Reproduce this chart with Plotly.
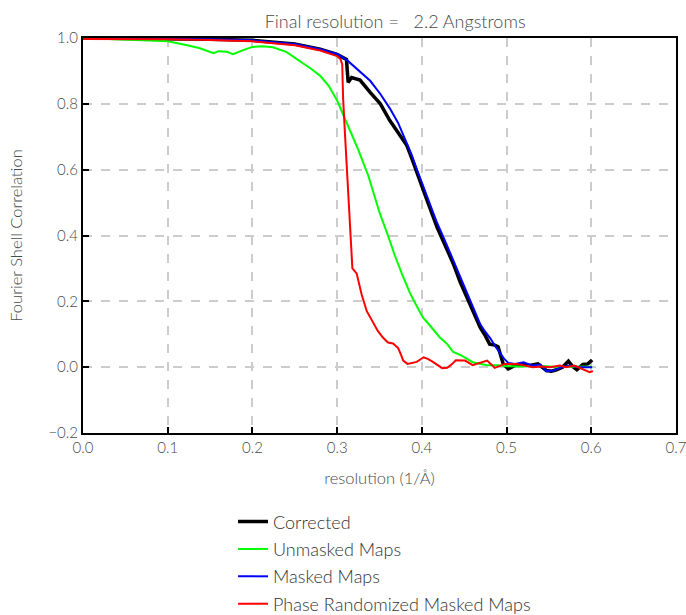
import plotly.graph_objects as go

# Corrected (black)
res_corr = [0.0, 0.05, 0.1, 0.15, 0.2, 0.25, 0.28, 0.30, 0.311, 0.313, 0.317, 0.327, 0.339,
            0.351, 0.362, 0.372, 0.382, 0.388, 0.394, 0.405, 0.418, 0.428, 0.437, 0.445, 0.453, 0.461, 0.469,
            0.475, 0.48, 0.486, 0.49, 0.496, 0.502, 0.51, 0.517, 0.527, 0.537, 0.547, 0.553, 0.559,
            0.566, 0.573, 0.578, 0.583, 0.59, 0.596, 0.601]
fsc_corr = [1.0, 0.999, 0.998, 0.996, 0.993, 0.982, 0.966, 0.95, 0.935, 0.865, 0.88, 0.872, 0.835,
            0.80, 0.75, 0.714, 0.675, 0.635, 0.59, 0.515, 0.425, 0.37, 0.315, 0.26, 0.213, 0.165, 0.12,
            0.095, 0.07, 0.067, 0.062, 0.01, -0.005, 0.005, 0.008, 0.005, 0.01, -0.01, -0.012, -0.008,
            0.0, 0.018, 0.002, -0.008, 0.008, 0.01, 0.022]

# Unmasked Maps (green)
res_unm = [0.0, 0.059, 0.1, 0.123, 0.138, 0.154, 0.16, 0.17, 0.177, 0.189, 0.2, 0.212, 0.224, 0.24,
           0.256, 0.27, 0.28, 0.29, 0.30, 0.315, 0.325, 0.337, 0.35, 0.36, 0.368, 0.377, 0.386, 0.393,
           0.401, 0.41, 0.421, 0.43, 0.437, 0.447, 0.46, 0.477, 0.49, 0.5, 0.52, 0.54, 0.56, 0.58, 0.601]
fsc_unm = [1.0, 0.993, 0.99, 0.978, 0.969, 0.954, 0.96, 0.958, 0.951, 0.963, 0.973, 0.975, 0.972, 0.958,
           0.93, 0.905, 0.885, 0.855, 0.81, 0.72, 0.66, 0.58, 0.47, 0.40, 0.34, 0.28, 0.225, 0.19,
           0.152, 0.125, 0.091, 0.07, 0.046, 0.035, 0.015, 0.006, 0.006, 0.003, 0.002, 0.004, 0.0, 0.002, 0.001]

# Masked Maps (blue)
res_msk = [0.0, 0.05, 0.1, 0.15, 0.2, 0.25, 0.28, 0.30, 0.312, 0.327, 0.339, 0.351, 0.362, 0.372, 0.382,
           0.388, 0.394, 0.405, 0.418, 0.428, 0.437, 0.445, 0.453, 0.461, 0.469, 0.475, 0.481, 0.487,
           0.492, 0.497, 0.502, 0.51, 0.52, 0.53, 0.54, 0.547, 0.555, 0.565, 0.575, 0.585, 0.601]
fsc_msk = [1.0, 0.999, 0.998, 0.996, 0.993, 0.982, 0.966, 0.952, 0.932, 0.897, 0.87, 0.83, 0.787, 0.742, 0.682,
           0.645, 0.602, 0.528, 0.438, 0.38, 0.325, 0.272, 0.224, 0.175, 0.13, 0.107, 0.087, 0.062,
           0.042, 0.026, 0.013, 0.01, 0.015, 0.005, 0.008, -0.012, -0.01, 0.0, 0.005, 0.0, 0.0]

# Phase Randomized Masked Maps (red)
res_rnd = [0.0, 0.05, 0.1, 0.15, 0.2, 0.25, 0.28, 0.30, 0.304, 0.306, 0.307, 0.309, 0.311, 0.315, 0.318,
           0.323, 0.329, 0.335, 0.342, 0.348, 0.354, 0.36, 0.366, 0.372, 0.375, 0.378, 0.383, 0.388,
           0.394, 0.402, 0.407, 0.413, 0.418, 0.424, 0.43, 0.436, 0.44, 0.451, 0.46, 0.468, 0.477,
           0.486, 0.498, 0.512, 0.52, 0.531, 0.541, 0.551, 0.563, 0.57, 0.58, 0.59, 0.598, 0.602]
fsc_rnd = [0.997, 0.997, 0.996, 0.994, 0.99, 0.978, 0.962, 0.945, 0.935, 0.92, 0.82, 0.72, 0.62, 0.425, 0.30,
           0.285, 0.22, 0.17, 0.14, 0.11, 0.09, 0.075, 0.072, 0.058, 0.04, 0.02, 0.01, 0.012,
           0.016, 0.03, 0.025, 0.016, 0.008, -0.003, -0.002, 0.01, 0.021, 0.02, 0.006, 0.012, 0.02,
           -0.002, 0.01, 0.01, 0.006, 0.0, 0.002, 0.0, 0.005, 0.0, 0.005, -0.005, -0.015, -0.012]

x_ticks = [0.0, 0.1, 0.2, 0.3, 0.4, 0.5, 0.6, 0.7]
y_ticks = [-0.2, 0.0, 0.2, 0.4, 0.6, 0.8, 1.0]

FONT = "Lato"
TXT = "#4a4a4a"
fig = go.Figure()
series = [
    (res_corr, fsc_corr, "Corrected", "black", 3.5),
    (res_unm, fsc_unm, "Unmasked Maps", "#00ff00", 2),
    (res_msk, fsc_msk, "Masked Maps", "#0000ff", 2),
    (res_rnd, fsc_rnd, "Phase Randomized Masked Maps", "#ff0000", 2),
]
for xs, ys, name, col, w in series:
    fig.add_trace(go.Scatter(x=xs, y=ys, mode="lines", name=name, legendgroup=name,
                             line=dict(color=col, width=w)))

axis_common = dict(showline=True, linecolor="black", linewidth=2, mirror=True,
                   ticks="inside", ticklen=6, tickwidth=2, tickcolor="black",
                   showgrid=True, gridcolor="#cccccc", griddash="dash", gridwidth=2,
                   zeroline=False, automargin=False, ticklabeloverflow="allow",
                   tickfont=dict(family=FONT, size=15, color=TXT, weight=300))

fig.update_layout(
    width=686, height=615, autosize=False,
    margin=dict(l=83, r=10, t=38, b=182, autoexpand=False),
    paper_bgcolor="white", plot_bgcolor="white",
    title=dict(text="Final resolution =\u00a0\u00a0 2.2 Angstroms", x=0.576, xanchor="center",
               y=1 - 22 / 615, yanchor="middle",
               font=dict(family=FONT, size=18, color=TXT, weight=300)),
    xaxis=dict(range=[0, 0.7], tickvals=x_ticks, tickformat=".1f",
               title=dict(text="resolution (1/Å)", font=dict(family=FONT, size=16.5, color=TXT, weight=300), standoff=17),
               **axis_common),
    yaxis=dict(range=[-0.2, 1.0], tickvals=y_ticks, tickformat=".1f",
               title=dict(text="Fourier Shell Correlation", font=dict(family=FONT, size=16.5, color=TXT, weight=300), standoff=22),
               **axis_common),
    legend=dict(x=0.253, xanchor="left", y=-0.178, yanchor="top",
                font=dict(family=FONT, size=18, color="#333", weight=300),
                tracegroupgap=1, bgcolor="rgba(0,0,0,0)"),
    showlegend=True,
)

fig.write_html("out.html", config={"responsive": False, "displayModeBar": False},
               post_script="document.body.style.margin='0';")
